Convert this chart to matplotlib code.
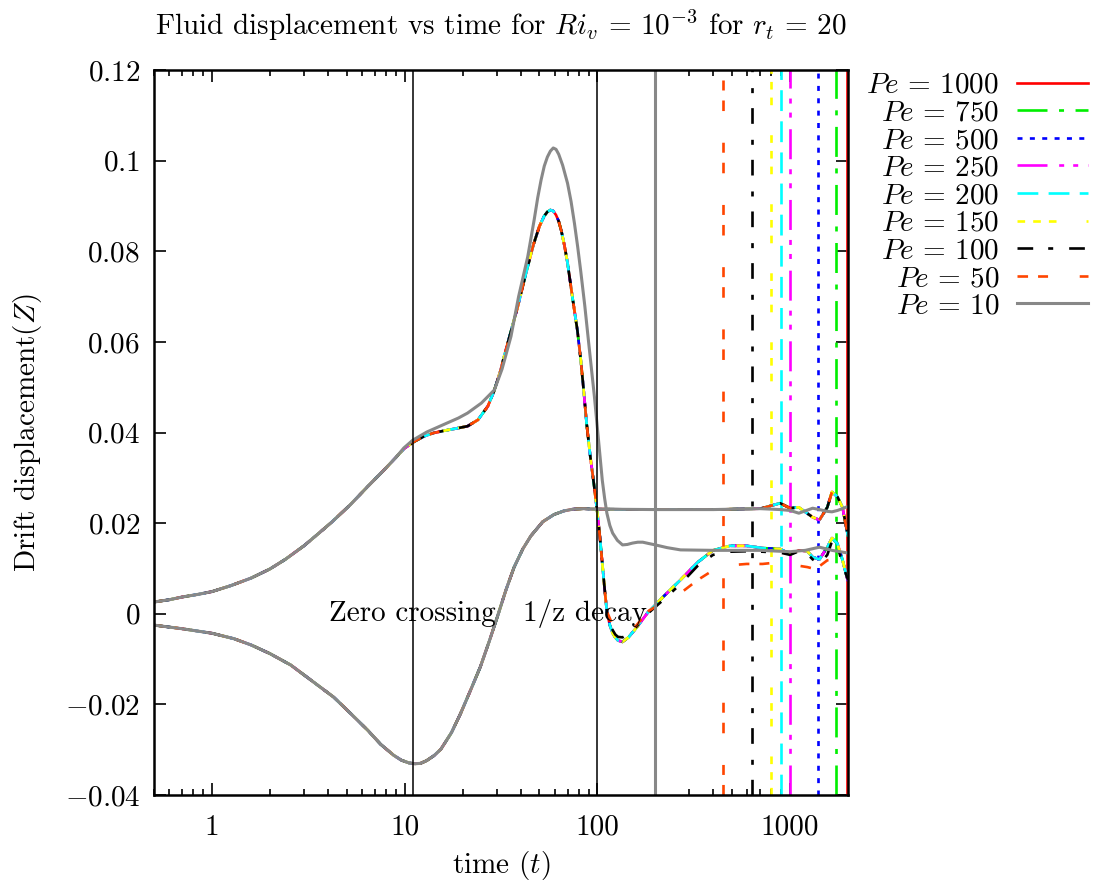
import matplotlib
matplotlib.use("Agg")
import matplotlib.pyplot as plt
from matplotlib.ticker import LogLocator, NullLocator, FixedLocator, FixedFormatter

plt.rcParams['font.family'] = 'serif'
plt.rcParams['font.serif'] = ['cmr10']
plt.rcParams['mathtext.fontset'] = 'cm'
plt.rcParams['axes.unicode_minus'] = False
plt.rcParams['lines.scale_dashes'] = False

# Peclet numbers, legend order
pe_values = [1000, 750, 500, 250, 200, 150, 100, 50, 10]
colors = ['#ff0000', '#00ee00', '#0000ff', '#ff00ff', '#00ffff',
          '#ffff00', '#000000', '#ff4500', '#888888']
dashes = [None, (21.6, 8.3, 3.6, 8.3), (3.6, 5.3), (21.6, 8.4, 3.6, 6.5, 3.6, 7.2),
          (15, 7.4), (5.5, 5.8, 5.5, 5.8, 5.5, 21.6), (11.3, 10.8, 3.6, 11.5),
          (7.6, 7.2, 7.2, 22.8), None]
# marker time of each run (vertical lines)
t_marks = [1985, 1738, 1400, 1002, 900, 798, 634, 447, 200]

# upper branch, common part (all Pe >= 50)
t_up = [0.5, 0.6, 0.7, 0.85, 1.0, 1.25, 1.6, 2.0, 2.4, 3.0, 3.5, 4.2, 5.2, 6.4,
        7.8, 9.0, 9.9, 11.1, 12.5, 14.1, 16, 18, 21.2, 24, 27, 29, 31.4, 33, 35,
        38.5, 42.5, 46.6, 50, 53, 55, 57, 59, 61, 63, 65, 67.5, 70, 74, 78.7, 82,
        85, 88, 92, 96, 100, 103, 106, 109, 112]
z_up = [0.0026, 0.0031, 0.0037, 0.0043, 0.0049, 0.0062, 0.0079, 0.0099, 0.0120,
        0.0150, 0.0174, 0.0203, 0.0240, 0.0280, 0.0317, 0.0345, 0.0364, 0.0379,
        0.0391, 0.0399, 0.0404, 0.0408, 0.0414, 0.0428, 0.0458, 0.0490, 0.0536,
        0.0572, 0.0612, 0.0676, 0.0750, 0.0815, 0.0855, 0.0878, 0.0887, 0.0891,
        0.0889, 0.0880, 0.0866, 0.0845, 0.0812, 0.0774, 0.0702, 0.0626, 0.0560,
        0.0490, 0.0418, 0.0345, 0.0285, 0.0222, 0.0170, 0.0112, 0.0055, 0.0005]

# upper branch tails
t_tail = [116, 120, 124, 128, 135, 145, 160, 182, 219, 269, 330, 398, 488, 595,
          720, 888, 1000, 1110, 1230, 1310, 1420, 1560, 1650, 1760, 1870, 1970, 2000]
z_tail_hi = [-0.0025, -0.0043, -0.0053, -0.0059, -0.0062, -0.0052, -0.0030, 0.0002,
             0.0037, 0.0074, 0.0113, 0.0140, 0.0150, 0.0150, 0.0145, 0.0143, 0.0132,
             0.0140, 0.0138, 0.0125, 0.0120, 0.0147, 0.0167, 0.0155, 0.0119, 0.0081,
             0.0072]
z_tail_100 = [-0.0020, -0.0036, -0.0046, -0.0051, -0.0052, -0.0045, -0.0028, 0.0000,
              0.0030, 0.0065, 0.0105, 0.0130, 0.0137, 0.0138, 0.0137, 0.0135, 0.0130,
              0.0138, 0.0132, 0.0120, 0.0110, 0.0130, 0.0160, 0.0150, 0.0110, 0.0082,
              0.0075]
z_tail_50 = [-0.0010, -0.0025, -0.0036, -0.0042, -0.0044, -0.0040, -0.0025, 0.0005,
             0.0025, 0.0045, 0.0074, 0.0096, 0.0107, 0.0110, 0.0110, 0.0114, 0.0111,
             0.0106, 0.0103, 0.0100, 0.0105, 0.0118, 0.0120, 0.0116, 0.0100, 0.0080,
             0.0075]

# upper branch, Pe = 10
t_up10 = [0.5, 0.6, 0.7, 0.85, 1.0, 1.25, 1.6, 2.0, 2.4, 3.0, 3.5, 4.2, 5.2, 6.4,
          7.8, 9.0, 9.9, 11, 13, 16, 19, 21.2, 25, 29.2, 32, 35.6, 39, 43.5, 47, 49,
          51, 53, 55, 57, 59, 61, 63, 66, 70, 73, 76, 79, 82, 86, 90, 96.5, 101, 106,
          109, 112, 116, 120, 127, 135, 143, 152, 162, 172, 185, 200, 230, 270, 400,
          700, 1000, 1200, 1420, 1650, 2000]
z_up10 = [0.0026, 0.0031, 0.0037, 0.0043, 0.0049, 0.0062, 0.0079, 0.0099, 0.0120,
          0.0150, 0.0174, 0.0203, 0.0240, 0.0280, 0.0317, 0.0345, 0.0366, 0.0383,
          0.0401, 0.0418, 0.0432, 0.0443, 0.0465, 0.0494, 0.0540, 0.0612, 0.0700,
          0.0788, 0.0870, 0.0918, 0.0957, 0.0988, 0.1008, 0.1021, 0.1028, 0.1025,
          0.1014, 0.0990, 0.0950, 0.0910, 0.0862, 0.0810, 0.0755, 0.0680, 0.0600,
          0.0479, 0.0390, 0.0295, 0.0255, 0.0222, 0.0195, 0.0178, 0.0162, 0.0152,
          0.0153, 0.0156, 0.0158, 0.0158, 0.0155, 0.0152, 0.0146, 0.0141, 0.0140,
          0.0140, 0.0137, 0.0140, 0.0147, 0.0140, 0.0134]

# lower branch, common part
t_low = [0.5, 0.7, 1.0, 1.3, 1.6, 2.0, 2.56, 3.3, 4.28, 5.3, 6.43, 7.5, 8.75, 9.6,
         10.5, 11.3, 12.1, 13, 14.2, 15.4, 17.5, 19.5, 22, 24.7, 27.5, 30.3, 33.5,
         36.9, 41, 45.2, 52, 59.5, 67, 75, 85, 95, 200, 400, 700]
z_low = [-0.0025, -0.0033, -0.0043, -0.0055, -0.0069, -0.0088, -0.0113, -0.0148,
         -0.0184, -0.0222, -0.0257, -0.0288, -0.0312, -0.0323, -0.0329, -0.0331,
         -0.0330, -0.0324, -0.0313, -0.0299, -0.0262, -0.0220, -0.0168, -0.0117,
         -0.0060, -0.0006, 0.0052, 0.0102, 0.0143, 0.0172, 0.0203, 0.0219, 0.0227,
         0.0231, 0.0232, 0.0231, 0.0230, 0.0230, 0.0232]
t_low_tail = [888, 1000, 1110, 1310, 1420, 1560, 1650, 1760, 1870, 1970, 2000]
z_low_tail = [0.0244, 0.0233, 0.0235, 0.0213, 0.0207, 0.0235, 0.0269, 0.0258,
              0.0235, 0.0185, 0.0170]
z_low_tail10 = [0.0230, 0.0228, 0.0222, 0.0233, 0.0230, 0.0226, 0.0225, 0.0228,
                0.0232, 0.0236, 0.0236]

fig = plt.figure(figsize=(11, 8.82), dpi=100)
ax = fig.add_axes([0.14, 0.0986, 0.631, 0.822])

for pe, c, d, tm in zip(pe_values, colors, dashes, t_marks):
    if pe == 10:
        tu, zu = t_up10, z_up10
        zl = z_low + z_low_tail10
    else:
        tail = z_tail_50 if pe == 50 else (z_tail_100 if pe == 100 else z_tail_hi)
        tu, zu = t_up + t_tail, z_up + tail
        zl = z_low + z_low_tail
    tl = t_low + t_low_tail
    lw = 2.2 if pe == 10 else 1.9
    kw = dict(color=c, lw=lw)
    if d is not None:
        kw['dashes'] = d
    ax.plot(tu, zu, label=r'$Pe\,=\,%d$' % pe, **kw)
    ax.plot(tl, zl, **kw)
    ax.axvline(tm, **kw)

# reference lines
ax.axvline(11.0, color='black', lw=1.1)
ax.axvline(100, color='black', lw=1.1)

ax.text(4.05, 0.0, 'Zero crossing', fontsize=21, va='center', ha='left')
ax.text(41, 0.0, '1/z decay', fontsize=21, va='center', ha='left')

ax.set_xscale('log')
ax.set_xlim(0.5, 2000)
ax.set_ylim(-0.04, 0.12)

ax.xaxis.set_major_locator(FixedLocator([1, 10, 100, 1000]))
ax.xaxis.set_major_formatter(FixedFormatter(['1', '10', '100', '1000']))
ax.xaxis.set_minor_locator(LogLocator(base=10, subs=range(2, 10), numticks=20))
ax.xaxis.set_minor_formatter(FixedFormatter([]))
yt = [-0.04, -0.02, 0, 0.02, 0.04, 0.06, 0.08, 0.1, 0.12]
ax.set_yticks(yt)
ax.set_yticklabels(['$-0.04$', '$-0.02$', '$0$', '$0.02$', '$0.04$', '$0.06$',
                    '$0.08$', '$0.1$', '$0.12$'])
ax.yaxis.set_minor_locator(NullLocator())
ax.tick_params(which='both', direction='in', top=True, right=True, labelsize=21)
ax.tick_params(which='major', length=8.5, width=1.2)
ax.tick_params(which='minor', length=4.5, width=1.2)
ax.tick_params(axis='x', pad=14)
ax.tick_params(axis='y', pad=10)
for s in ax.spines.values():
    s.set_linewidth(1.8)

ax.set_xlabel('time $(t)$', fontsize=21, labelpad=6)
ax.set_ylabel('Drift displacement$(Z)$', fontsize=21, labelpad=15)
ax.set_title(r'Fluid displacement vs time for $Ri_v\,=\,10^{-3}$ for $r_t\,=\,20$',
             fontsize=21, pad=25)

handles, labels = ax.get_legend_handles_labels()
fig.legend(handles, labels, loc='upper right', bbox_to_anchor=(1.0, 0.931),
           frameon=False, markerfirst=False, fontsize=21, handlelength=2.45,
           handletextpad=0.6, labelspacing=0.04, borderaxespad=0)

fig.savefig('out.png', dpi=100)
